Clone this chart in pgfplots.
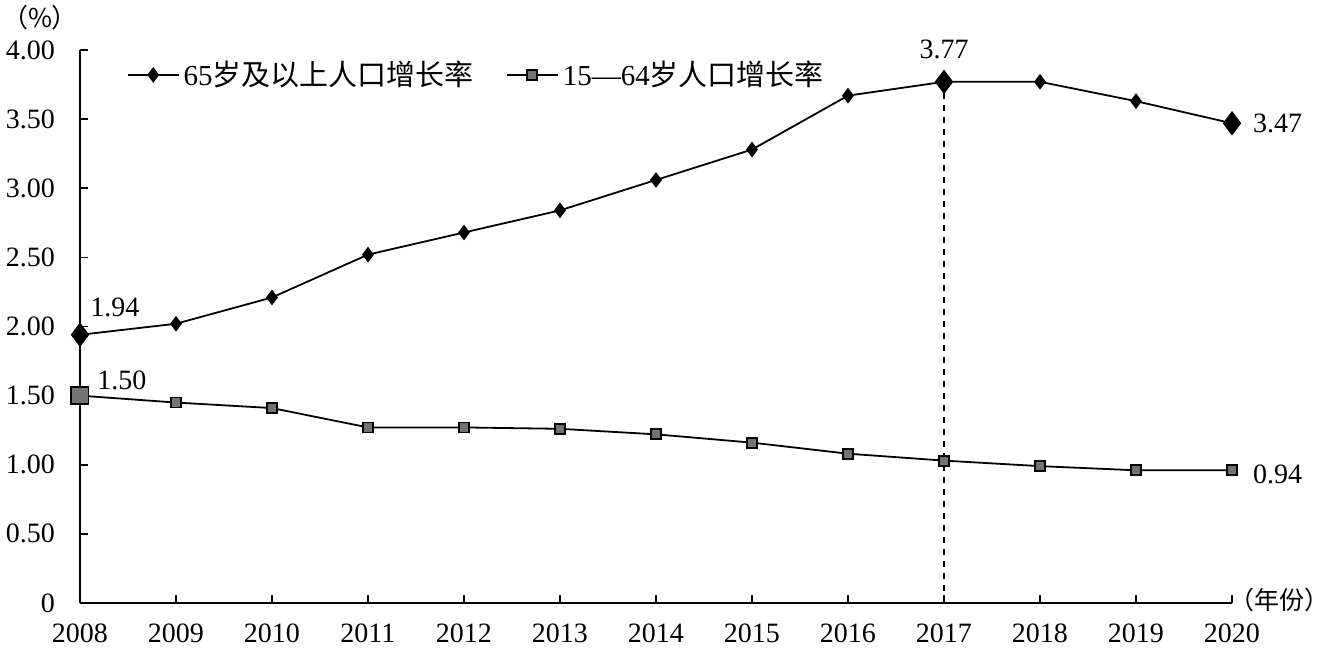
\documentclass[border=0pt]{standalone}
\usepackage{fontspec}
\setmainfont{Liberation Serif}
\newfontfamily\cjk{Noto Sans CJK SC}
\usepackage{pgfplots}
\pgfplotsset{compat=1.18}
\begin{document}
\begin{tikzpicture}
\path[use as bounding box] (-40pt,-23.5pt) rectangle (626pt,301.5pt);
\begin{axis}[
  at={(0,0)}, anchor=south west,
  scale only axis, width=576pt, height=276.5pt,
  xmin=2008, xmax=2020, ymin=0, ymax=4,
  axis lines*=left,
  axis line style={-, line width=1pt},
  tick align=inside,
  major tick length=4pt,
  tick style={line width=0.8pt, black},
  xtick={2008,...,2020},
  xticklabels={2008,2009,2010,2011,2012,2013,2014,2015,2016,2017,2018,2019,2020},
  ytick={0,0.5,1,1.5,2,2.5,3,3.5,4},
  yticklabels={0,0.50,1.00,1.50,2.00,2.50,3.00,3.50,4.00},
  /pgf/number format/assume math mode=true,
  ticklabel style={font=\fontsize{14}{16}\selectfont},
  yticklabel style={xshift=-9pt},
  xticklabel style={yshift=-7pt},
  clip=false,
  legend style={at={(rel axis cs:0.035,0.955)}, anchor=west, draw=none, fill=none,
     font=\fontsize{14.5}{16}\selectfont, legend columns=2,
     /tikz/every even column/.append style={column sep=14pt}},
  legend image code/.code={\draw[mark repeat=2,mark phase=2] plot coordinates {(0cm,0cm) (0.45cm,0cm) (0.9cm,0cm)};},
]
\addplot[black, dashed, line width=0.7pt, forget plot] coordinates {(2017,0) (2017,3.77)};
\addplot[black, line width=0.9pt, mark=diamond*, mark size=3.2pt, mark options={solid, fill=black}] coordinates {
(2008,1.94) (2009,2.02) (2010,2.21) (2011,2.52) (2012,2.68) (2013,2.84) (2014,3.06)
(2015,3.28) (2016,3.67) (2017,3.77) (2018,3.77) (2019,3.63) (2020,3.47)};
\addlegendentry{65{\cjk 岁及以上人口增长率}}
\addplot[black, line width=0.9pt, mark=square*, mark size=2.5pt, mark options={solid, fill=black!55, draw=black}] coordinates {
(2008,1.50) (2009,1.45) (2010,1.41) (2011,1.27) (2012,1.27) (2013,1.26) (2014,1.22)
(2015,1.16) (2016,1.08) (2017,1.03) (2018,0.99) (2019,0.96) (2020,0.96)};
\addlegendentry{15—64{\cjk 岁人口增长率}}
\addplot[only marks, mark=diamond*, mark size=5.8pt, black, mark options={fill=black}, forget plot] coordinates {(2008,1.94) (2017,3.77) (2020,3.47)};
\addplot[only marks, mark=square*, mark size=4.3pt, mark options={fill=black!55, draw=black, line width=0.9pt}, forget plot] coordinates {(2008,1.50)};
\node[font=\fontsize{14}{16}\selectfont] at ([xshift=17.5pt,yshift=13.5pt]axis cs:2008,1.94) {1.94};
\node[font=\fontsize{14}{16}\selectfont] at ([xshift=21pt,yshift=7.5pt]axis cs:2008,1.50) {1.50};
\node[font=\fontsize{14}{16}\selectfont] at ([yshift=16pt]axis cs:2017,3.77) {3.77};
\node[font=\fontsize{14}{16}\selectfont, anchor=west] at ([xshift=7pt]axis cs:2020,3.47) {3.47};
\node[font=\fontsize{14}{16}\selectfont, anchor=west] at ([xshift=7pt,yshift=-2pt]axis cs:2020,0.96) {0.94};
\end{axis}
\node[font=\cjk\fontsize{13}{15}\selectfont] at (-20pt,292.5pt) {（\%）};
\node[font=\cjk\fontsize{12.5}{15}\selectfont, anchor=east, inner sep=0pt] at (625pt,1.5pt) {（年份）};
\end{tikzpicture}
\end{document}
